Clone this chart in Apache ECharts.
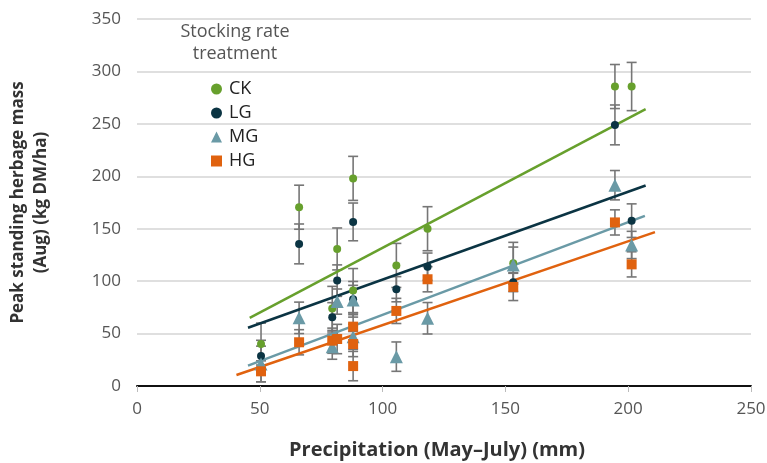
<!DOCTYPE html>
<html>
<head>
<meta charset="utf-8">
<script src="https://cdn.jsdelivr.net/npm/echarts@6/dist/echarts.min.js"></script>
<style>html,body{margin:0;padding:0;background:#fff;}#c{width:767px;height:463px;}</style>
</head>
<body>
<div id="c"></div>
<script>
// ---- data ----
const ckX  = [50.5, 66, 79.5, 81.5, 88, 88, 105.6, 118.3, 153.2, 194.6, 201.4];
const ckY  = [40, 170.5, 74, 130.7, 198, 91, 115, 150, 117, 285.6, 285.6];
const ckErr = [20, 21, 21, 20, 21, 21, 21, 21, 20, 21, 23];

const lgX  = [50.5, 66, 79.5, 81.5, 88, 88, 105.6, 118.3, 153.2, 194.6, 201.4];
const lgY  = [28.6, 135.5, 65.5, 100.5, 156.5, 82.7, 92.3, 113.8, 99, 249, 157.7];
const lgErr = [15, 19, 14, 15, 18, 17, 12, 13, 9, 19, 16];

const mgX  = [50.5, 66, 79.5, 81.5, 88, 88, 105.6, 118.3, 153.2, 194.6, 201.4];
const mgY  = [21, 65, 37.5, 80.5, 82, 47, 28, 64.6, 115.5, 191.5, 134.5];
const mgErr = [17, 15, 12, 12, 14, 12, 14, 15, 17, 14, 13];

const hgX  = [50.5, 66, 79.5, 81.5, 88, 88, 88, 105.6, 118.3, 153.2, 194.6, 201.4];
const hgY  = [14, 41.7, 43.2, 44.8, 56.6, 40, 19, 71.6, 101.8, 94.5, 156, 116];
const hgErr = [10, 12, 12, 14, 13, 12, 14, 12, 12, 13, 12, 12];

// fitted trend line endpoints [x, y]
const ckTrend = [[45.9, 65], [207.1, 264]];
const lgTrend = [[45.2, 55.6], [207.1, 191.2]];
const mgTrend = [[45.2, 19.4], [206.8, 162.2]];
const hgTrend = [[40.5, 10.5], [210.9, 146.7]];

const seriesNames = ['CK', 'LG', 'MG', 'HG'];
const xTicks = [0, 50, 100, 150, 200, 250];
const yTicks = [0, 50, 100, 150, 200, 250, 300, 350];

// ---- styling ----
const colors = { CK: '#67a02d', LG: '#0b3443', MG: '#6a9aa6', HG: '#e0620f' };
const symbols = { CK: 'circle', LG: 'circle', MG: 'triangle', HG: 'rect' };
const symSizes = { CK: 8, LG: 8, MG: 13, HG: 10 };
const FONT = '"Open Sans", "Noto Sans", sans-serif';

const groups = [
  { name: 'CK', x: ckX, y: ckY, e: ckErr, t: ckTrend },
  { name: 'LG', x: lgX, y: lgY, e: lgErr, t: lgTrend },
  { name: 'MG', x: mgX, y: mgY, e: mgErr, t: mgTrend },
  { name: 'HG', x: hgX, y: hgY, e: hgErr, t: hgTrend }
];

const series = [];
groups.forEach(g => {
  const errData = g.x.map((xv, i) => [xv, g.y[i] - g.e[i], g.y[i] + g.e[i]]);
  series.push({
    name: g.name + '-err',
    type: 'custom',
    z: 1,
    silent: true,
    data: errData,
    renderItem: function (params, api) {
      const xv = api.value(0);
      const lo = api.coord([xv, api.value(1)]);
      const hi = api.coord([xv, api.value(2)]);
      const hw = 5;
      const st = { stroke: '#767676', lineWidth: 1.6, fill: null };
      return {
        type: 'group',
        children: [
          { type: 'line', shape: { x1: lo[0], y1: lo[1], x2: hi[0], y2: hi[1] }, style: st },
          { type: 'line', shape: { x1: lo[0] - hw, y1: lo[1], x2: lo[0] + hw, y2: lo[1] }, style: st },
          { type: 'line', shape: { x1: hi[0] - hw, y1: hi[1], x2: hi[0] + hw, y2: hi[1] }, style: st }
        ]
      };
    }
  });
});
groups.forEach(g => {
  series.push({
    name: g.name + '-trend',
    type: 'line',
    z: 2,
    silent: true,
    data: g.t,
    symbol: 'none',
    lineStyle: { color: colors[g.name], width: 2.5 },
    itemStyle: { color: colors[g.name] }
  });
});
groups.forEach(g => {
  series.push({
    name: g.name,
    type: 'scatter',
    z: 3,
    data: g.x.map((xv, i) => [xv, g.y[i]]),
    symbol: symbols[g.name],
    symbolSize: symSizes[g.name],
    itemStyle: { color: colors[g.name], opacity: 1 }
  });
});

const chart = echarts.init(document.getElementById('c'), null, { renderer: 'canvas' });
chart.setOption({
  animation: false,
  backgroundColor: '#ffffff',
  grid: { left: 137, right: 16, top: 19, bottom: 77, containLabel: false, outerBoundsMode: 'none' },
  xAxis: {
    type: 'value',
    min: xTicks[0], max: xTicks[xTicks.length - 1], interval: 50,
    name: 'Precipitation (May–July) (mm)',
    nameLocation: 'middle', nameGap: 54,
    nameTextStyle: { fontFamily: FONT, fontSize: 20, fontWeight: 'bold', color: '#333', padding: [0, 14, 0, 0] },
    axisLine: { show: true, onZero: false, lineStyle: { color: '#111', width: 2 } },
    axisTick: { show: true, length: 6, lineStyle: { color: '#bbb', width: 1 } },
    axisLabel: { fontFamily: FONT, fontSize: 17, color: '#555', margin: 15 },
    splitLine: { show: false }
  },
  yAxis: {
    type: 'value',
    min: yTicks[0], max: yTicks[yTicks.length - 1], interval: 50,
    name: 'Peak standing herbage mass\n(Aug) (kg DM/ha)',
    nameLocation: 'middle', nameGap: 84, nameRotate: 90,
    nameTextStyle: { fontFamily: FONT, fontSize: 17, fontWeight: 'bold', color: '#333', lineHeight: 23 },
    axisLine: { show: false },
    axisTick: { show: false },
    axisLabel: { fontFamily: FONT, fontSize: 17, color: '#555', margin: 16 },
    splitLine: { show: true, lineStyle: { color: '#d4d4d4', width: 1.5 } }
  },
  title: {
    text: 'Stocking rate\ntreatment',
    left: 230, top: 16, textAlign: 'center',
    textStyle: { fontFamily: FONT, fontSize: 18, fontWeight: 'normal', color: '#555', lineHeight: 22 }
  },
  legend: {
    data: seriesNames,
    orient: 'vertical',
    left: 206, top: 75,
    itemWidth: 11, itemHeight: 11, itemGap: 6,
    textStyle: { fontFamily: FONT, fontSize: 18, color: '#222', padding: [0, 0, 0, 2] }
  },
  series: series
});
</script>
</body>
</html>
